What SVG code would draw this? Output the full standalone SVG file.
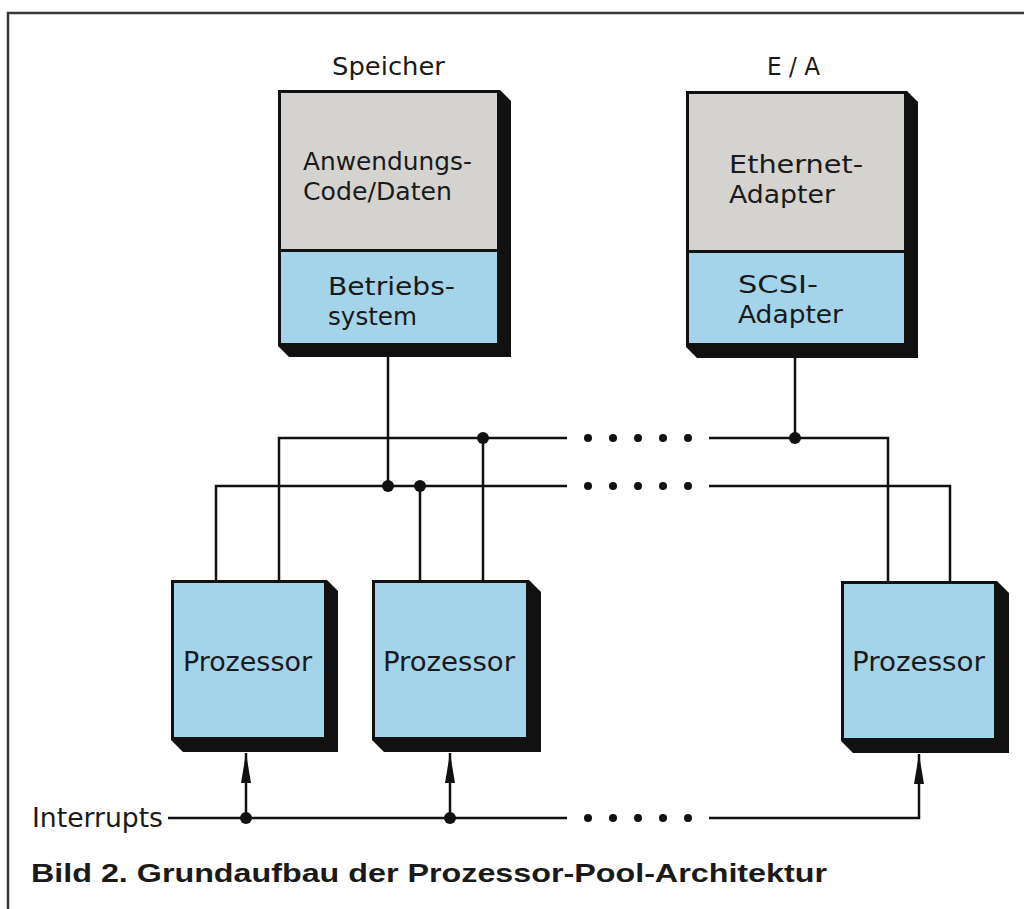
<svg xmlns="http://www.w3.org/2000/svg" width="1024" height="909" viewBox="0 0 1024 909">
<defs>
<style>
.frame{stroke:#3a3a3a;stroke-width:2.5;fill:none}
.shadow{fill:#111}
.gray{fill:#d5d3cf;stroke:#111;stroke-width:3}
.blue{fill:#a3d4ea;stroke:#111;stroke-width:3}
.t{font-family:"DejaVu Sans Condensed","DejaVu Sans",sans-serif;fill:#1a1a1a}
.big{font-size:25.5px}
.mid{font-size:26px}
.lbl{font-size:25px}
.cap{font-family:"Liberation Sans",Arial,sans-serif;font-weight:bold;font-size:26px;fill:#1a1a1a}
.wire{stroke:#111;stroke-width:2.5;fill:none}
.j{fill:#111}
.e{fill:#111}
</style>
<marker id="arr" viewBox="0 0 30 10" refX="30" refY="5" markerWidth="30" markerHeight="10" markerUnits="userSpaceOnUse" orient="auto">
<path d="M0,0 L30,5 L0,10 Z" fill="#111"/>
</marker>
</defs>
<rect width="1024" height="909" fill="#fff"/>
<path class="frame" d="M8,909 V13 H1024"/>

<g id="speicher">
<text class="t lbl" x="332" y="75" textLength="113" lengthAdjust="spacingAndGlyphs">Speicher</text>
<polygon class="shadow" points="278,90 500,90 511,101 511,357 289,357 278,346"/>
<rect class="gray" x="279.5" y="91.5" width="219" height="159"/>
<rect class="blue" x="279.5" y="250.5" width="219" height="94"/>
<text class="t big" x="303" y="170" textLength="169" lengthAdjust="spacingAndGlyphs">Anwendungs-</text>
<text class="t big" x="303" y="200" textLength="149" lengthAdjust="spacingAndGlyphs">Code/Daten</text>
<text class="t big" x="328" y="295" textLength="127" lengthAdjust="spacingAndGlyphs">Betriebs-</text>
<text class="t big" x="328" y="325" textLength="89" lengthAdjust="spacingAndGlyphs">system</text>
</g>

<g id="ea">
<text class="t lbl" x="767" y="75" textLength="53" lengthAdjust="spacingAndGlyphs">E / A</text>
<polygon class="shadow" points="686,91 907,91 918,102 918,358 697,358 686,347"/>
<rect class="gray" x="687.5" y="92.5" width="218" height="159"/>
<rect class="blue" x="687.5" y="251.5" width="218" height="93"/>
<text class="t big" x="729" y="173" textLength="134" lengthAdjust="spacingAndGlyphs">Ethernet-</text>
<text class="t big" x="729" y="203" textLength="106" lengthAdjust="spacingAndGlyphs">Adapter</text>
<text class="t big" x="738" y="293" textLength="80" lengthAdjust="spacingAndGlyphs">SCSI-</text>
<text class="t big" x="738" y="323" textLength="105" lengthAdjust="spacingAndGlyphs">Adapter</text>
</g>

<g id="proz1">
<polygon class="shadow" points="171,580 327,580 338,591 338,752 183,752 171,740"/>
<rect class="blue" x="172.5" y="581.5" width="153" height="157"/>
<text class="t mid" x="183" y="671" textLength="129" lengthAdjust="spacingAndGlyphs">Prozessor</text>
</g>

<g id="proz2">
<polygon class="shadow" points="372,580 529,580 541,592 541,752 384,752 372,740"/>
<rect class="blue" x="373.5" y="581.5" width="154" height="157"/>
<text class="t mid" x="383" y="671" textLength="132" lengthAdjust="spacingAndGlyphs">Prozessor</text>
</g>

<g id="proz3">
<polygon class="shadow" points="841,581 997,581 1009,593 1009,753 853,753 841,741"/>
<rect class="blue" x="842.5" y="582.5" width="153" height="157"/>
<text class="t mid" x="852" y="671" textLength="133" lengthAdjust="spacingAndGlyphs">Prozessor</text>
</g>

<g id="interrupts-label">
<text class="t mid" x="32" y="827" textLength="131" lengthAdjust="spacingAndGlyphs">Interrupts</text>
</g>

<g id="connectors">
<path class="wire" d="M279,581 V438 H567"/>
<path class="wire" d="M709,438 H888 V582"/>
<path class="wire" d="M216,581 V486 H567"/>
<path class="wire" d="M709,486 H950 V582"/>
<path class="wire" d="M388,357 V486"/>
<path class="wire" d="M420,486 V581"/>
<path class="wire" d="M483,438 V581"/>
<path class="wire" d="M795,358 V438"/>
<circle class="j" cx="388" cy="486" r="6"/>
<circle class="j" cx="420" cy="486" r="6"/>
<circle class="j" cx="483" cy="438" r="6"/>
<circle class="j" cx="795" cy="438" r="6"/>
<g class="e">
<circle cx="588" cy="438" r="4"/><circle cx="613" cy="438" r="4"/><circle cx="638" cy="438" r="4"/><circle cx="663" cy="438" r="4"/><circle cx="688" cy="438" r="4"/>
<circle cx="588" cy="486" r="4"/><circle cx="613" cy="486" r="4"/><circle cx="638" cy="486" r="4"/><circle cx="663" cy="486" r="4"/><circle cx="688" cy="486" r="4"/>
<circle cx="588" cy="818" r="4"/><circle cx="613" cy="818" r="4"/><circle cx="638" cy="818" r="4"/><circle cx="663" cy="818" r="4"/><circle cx="688" cy="818" r="4"/>
</g>
<path class="wire" d="M168,818 H567"/>
<path class="wire" d="M709,818 H919 V754" marker-end="url(#arr)"/>
<path class="wire" d="M246,818 V753" marker-end="url(#arr)"/>
<path class="wire" d="M450,818 V753" marker-end="url(#arr)"/>
<circle class="j" cx="246" cy="818" r="6"/>
<circle class="j" cx="450" cy="818" r="6"/>
</g>

<text class="cap" x="31" y="882" textLength="796" lengthAdjust="spacingAndGlyphs">Bild 2. Grundaufbau der Prozessor-Pool-Architektur</text>
</svg>
